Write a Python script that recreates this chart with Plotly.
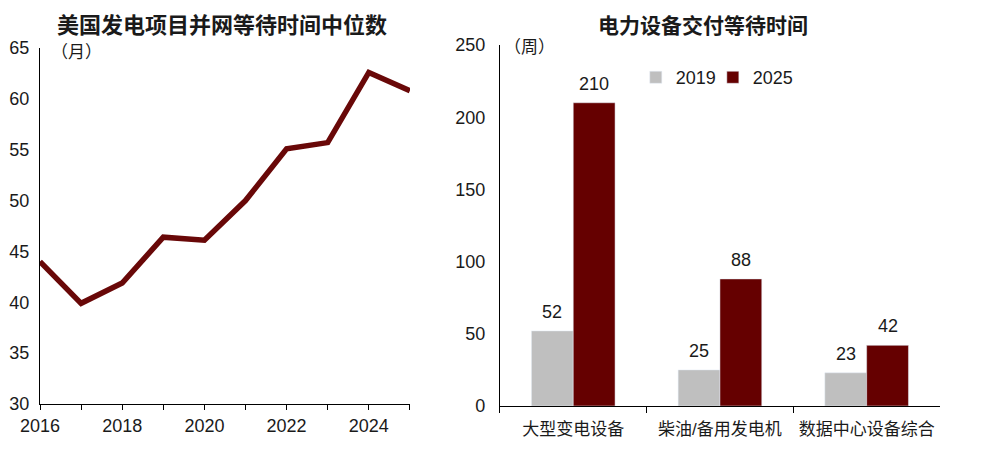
import plotly.graph_objects as go

# left chart: median wait time for grid interconnection (months)
years = [2016, 2017, 2018, 2019, 2020, 2021, 2022, 2023, 2024, 2025]
wait_months = [44.0, 39.9, 41.9, 46.4, 46.1, 50.0, 55.1, 55.7, 62.6, 60.8]

# right chart: equipment delivery wait (weeks)
categories = ['大型变电设备', '柴油/备用发电机', '数据中心设备综合']
weeks_2019 = [52, 25, 23]
weeks_2025 = [210, 88, 42]

maroon = '#650000'
grey = '#bfbfbf'
font_family = 'Liberation Sans, Arial, Noto Sans CJK SC'

fig = go.Figure()

fig.add_trace(go.Scatter(
    x=years, y=wait_months, mode='lines',
    line=dict(color='#690808', width=5.5),
    showlegend=False, xaxis='x', yaxis='y'))

fig.add_trace(go.Bar(
    x=categories, y=weeks_2019, name='2019', marker_color=grey,
    xaxis='x2', yaxis='y2', legend='legend'))
fig.add_trace(go.Bar(
    x=categories, y=weeks_2025, name='2025', marker_color=maroon,
    xaxis='x2', yaxis='y2', legend='legend2'))

# value labels above bars (bar centres sit at +/- a quarter of group width)
half = 0.1425
annotations = []
for i, (a, b) in enumerate(zip(weeks_2019, weeks_2025)):
    for off, v in ((-half, a), (half, b)):
        annotations.append(dict(
            x=i + off, y=v, xref='x2', yref='y2', text=str(v),
            showarrow=False, yanchor='bottom', yshift=7,
            font=dict(size=18, color='#1a1a1a')))

annotations += [
    dict(text='<b>美国发电项目并网等待时间中位数</b>', x=0.2022, y=1.055,
         xref='paper', yref='paper', xanchor='center', yanchor='middle',
         showarrow=False, font=dict(size=22, color='#1a1a1a')),
    dict(text='<b>电力设备交付等待时间</b>', x=0.7367, y=1.055,
         xref='paper', yref='paper', xanchor='center', yanchor='middle',
         showarrow=False, font=dict(size=21, color='#1a1a1a')),
    dict(text='（月）', x=0.041, y=0.978, xref='paper', yref='paper',
         xanchor='center', yanchor='middle', showarrow=False,
         font=dict(size=17, color='#1a1a1a')),
    dict(text='（周）', x=0.5444, y=0.992, xref='paper', yref='paper',
         xanchor='center', yanchor='middle', showarrow=False,
         font=dict(size=17, color='#1a1a1a')),
]

axis_common = dict(showline=True, linecolor='black', linewidth=1,
                   showgrid=False, zeroline=False, automargin=False,
                   tickfont=dict(size=18, color='#1a1a1a'))

legend_common = dict(orientation='h', y=0.961, xanchor='left', yanchor='top',
                     font=dict(size=18, color='#1a1a1a'),
                     bgcolor='rgba(0,0,0,0)', itemwidth=30)

# page body adds an 8px offset, so margins are trimmed by 8 on top/left
fig.update_layout(
    width=998, height=451,
    margin=dict(l=32, r=66, t=37, b=53),
    paper_bgcolor='white', plot_bgcolor='white',
    font=dict(family=font_family, color='#1a1a1a'),
    barmode='group', bargap=0.43, bargroupgap=0,
    xaxis=dict(domain=[0, 0.411], range=[2016, 2025],
               tickvals=years,
               ticktext=[str(y) if y % 2 == 0 else '' for y in years],
               ticks='outside', ticklen=5, tickcolor='black',
               anchor='y', **axis_common),
    yaxis=dict(domain=[0.0055, 0.9917], range=[30, 65], dtick=5,
               ticks='', ticklabelstandoff=6, anchor='x', **axis_common),
    xaxis2=dict(domain=[0.511, 1.0], tickson='boundaries',
                ticks='outside', ticklen=6, tickcolor='black',
                ticklabelstandoff=8, anchor='y2',
                **{**axis_common, 'tickfont': dict(size=17, color='#1a1a1a')}),
    yaxis2=dict(domain=[0, 1], range=[0, 250], dtick=50,
                ticks='', ticklabelstandoff=10, anchor='x2', **axis_common),
    legend=dict(x=0.662, **legend_common),
    legend2=dict(x=0.7476, **legend_common),
    annotations=annotations,
)

fig.write_html('out.html')
